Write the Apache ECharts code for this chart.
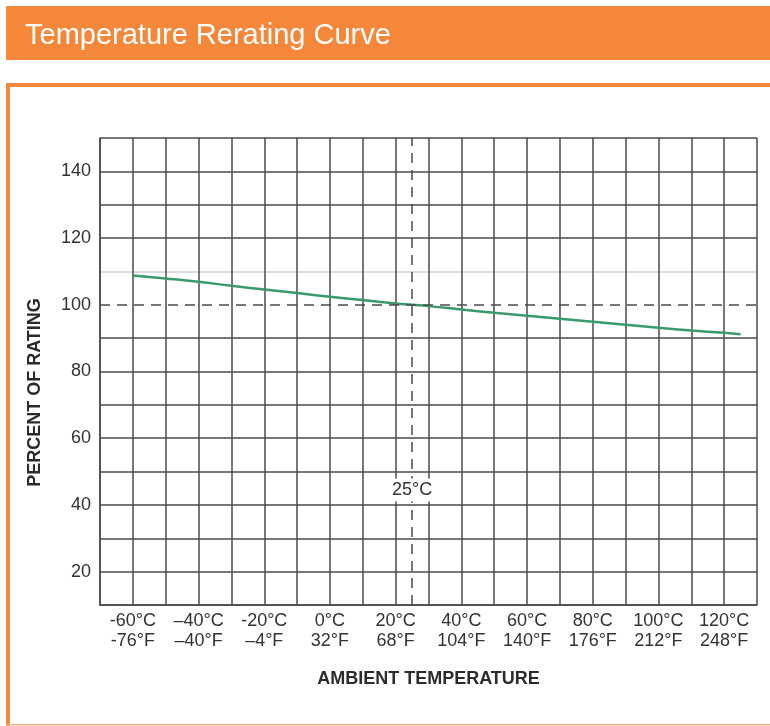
<!DOCTYPE html>
<html>
<head>
<meta charset="utf-8">
<script src="https://cdn.jsdelivr.net/npm/echarts@6/dist/echarts.min.js"></script>
<style>
html, body { margin: 0; padding: 0; background: #fff; }
#main { width: 770px; height: 726px; }
</style>
</head>
<body>
<div id="main"></div>
<script>
// curve (°C -> % of rating)
var tempC  = [-60, -50, -40, -30, -20, -10, 0, 10, 20, 25, 30, 40, 50, 60, 70, 80, 90, 100, 110, 120, 125];
var rating = [108.8, 107.9, 106.9, 105.7, 104.6, 103.5, 102.4, 101.4, 100.4, 100, 99.6, 98.6, 97.6, 96.7, 95.8, 94.9, 94.0, 93.1, 92.3, 91.6, 91.2];

// tick labels
var tickTemps = [-60, -40, -20, 0, 20, 40, 60, 80, 100, 120];
var tickC = ['-60°C', '–40°C', '-20°C', '0°C', '20°C', '40°C', '60°C', '80°C', '100°C', '120°C'];
var tickF = ['-76°F', '–40°F', '–4°F', '32°F', '68°F', '104°F', '140°F', '176°F', '212°F', '248°F'];
var ratingTicks = [20, 40, 60, 80, 100, 120, 140];

// reference lines
var refTemp = 25;
var refRating = 100;
var upperRating = 110;

var xMin = -70, xMax = 130, yMin = 10, yMax = 150, step = 10;

var orange = '#F5873A';
var gridColor = '#4a4a4a';
var font = 'Liberation Sans, Arial, sans-serif';

// one colour per horizontal grid line, from yMin upward
var hLineColors = [];
for (var v = yMin; v <= yMax; v += step) {
    if (v === refRating) hLineColors.push('rgba(0,0,0,0)');      // drawn dashed by markLine
    else if (v === upperRating) hLineColors.push('#cfcfcf');
    else hLineColors.push(gridColor);
}

var curve = tempC.map(function (t, i) { return [t, rating[i]]; });

var myChart = echarts.init(document.getElementById('main'));

var option = {
    backgroundColor: '#fff',
    animation: false,
    title: {
        text: 'Temperature Rerating Curve',
        left: 25,
        top: 21,
        padding: 0,
        textStyle: {
            color: '#fff',
            fontSize: 29,
            fontWeight: 'normal',
            fontFamily: font
        }
    },
    graphic: [
        { type: 'rect', shape: { x: 6, y: 6, width: 764, height: 54 }, style: { fill: orange } },
        { type: 'rect', shape: { x: 6, y: 83, width: 764, height: 4 }, style: { fill: orange } },
        { type: 'rect', shape: { x: 6, y: 83, width: 4, height: 643 }, style: { fill: orange } },
        { type: 'rect', shape: { x: 6, y: 724, width: 764, height: 1.5 }, style: { fill: '#f8b47f' } }
    ],
    grid: {
        left: 100,
        right: 13,
        top: 138,
        bottom: 121
    },
    xAxis: {
        type: 'value',
        min: xMin,
        max: xMax,
        interval: step,
        name: 'AMBIENT TEMPERATURE',
        nameLocation: 'middle',
        nameGap: 65,
        nameTextStyle: {
            color: '#2b2b2b',
            fontSize: 18,
            fontWeight: 'bold',
            fontFamily: font
        },
        axisLine: { show: true, onZero: false, lineStyle: { color: gridColor, width: 1.5 } },
        axisTick: { show: false },
        axisLabel: {
            margin: 6,
            color: '#333',
            fontSize: 18,
            lineHeight: 20,
            fontFamily: font,
            formatter: function (val) {
                var i = tickTemps.indexOf(val);
                return i < 0 ? '' : tickC[i] + '\n' + tickF[i];
            }
        },
        splitLine: { show: true, lineStyle: { color: gridColor, width: 1.5 } }
    },
    yAxis: {
        type: 'value',
        min: yMin,
        max: yMax,
        interval: step,
        name: 'PERCENT OF RATING',
        nameLocation: 'middle',
        nameGap: 56,
        nameTextStyle: {
            color: '#2b2b2b',
            fontSize: 18,
            fontWeight: 'bold',
            fontFamily: font,
            padding: [0, 42, 0, 0]
        },
        axisLine: { show: true, onZero: false, lineStyle: { color: gridColor, width: 1.5 } },
        axisTick: { show: false },
        axisLabel: {
            margin: 9,
            color: '#333',
            fontSize: 18,
            fontFamily: font,
            formatter: function (val) {
                return ratingTicks.indexOf(val) < 0 ? '' : String(val);
            }
        },
        splitLine: { show: true, lineStyle: { color: hLineColors, width: 1.5 } }
    },
    series: [
        {
            name: 'rating',
            type: 'line',
            data: curve,
            smooth: true,
            symbol: 'none',
            lineStyle: { color: '#3a9a6c', width: 2.5 },
            z: 4,
            markLine: {
                silent: true,
                symbol: 'none',
                label: { show: false },
                lineStyle: { color: gridColor, width: 1.5, type: [10, 7] },
                data: [
                    { yAxis: refRating },
                    { xAxis: refTemp }
                ]
            },
            markPoint: {
                silent: true,
                z: 10,
                symbol: 'rect',
                symbolSize: 1,
                itemStyle: { color: 'rgba(0,0,0,0)' },
                label: {
                    show: true,
                    position: 'inside',
                    formatter: refTemp + '°C',
                    color: '#333',
                    fontSize: 18,
                    fontFamily: font,
                    backgroundColor: '#fff',
                    padding: [3, 3, 2, 3]
                },
                data: [{ coord: [refTemp, 44.5] }]
            }
        }
    ]
};

myChart.setOption(option);
</script>
</body>
</html>
